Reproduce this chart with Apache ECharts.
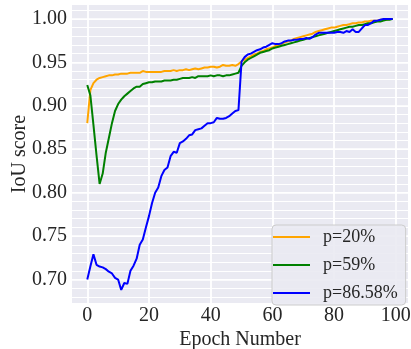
<!DOCTYPE html>
<html>
<head>
<meta charset="utf-8">
<script src="https://cdn.jsdelivr.net/npm/echarts@6/dist/echarts.min.js"></script>
<style>
html,body{margin:0;padding:0;background:#fff;}
#chart{width:411px;height:349px;}
</style>
</head>
<body>
<div id="chart"></div>
<script>
var epochs = [];
for (var i = 0; i < 100; i++) epochs.push(i);

var xTicks = [0, 20, 40, 60, 80, 100];
var yTicks = [0.70, 0.75, 0.80, 0.85, 0.90, 0.95, 1.00];
var yMinorTicks = [0.68,0.69,0.70,0.71,0.72,0.73,0.74,0.75,0.76,0.77,0.78,0.79,0.80,0.81,0.82,0.83,0.84,0.85,0.86,0.87,0.88,0.89,0.90,0.91,0.92,0.93,0.94,0.95,0.96,0.97,0.98,0.99,1.00,1.01];

var seriesNames = ['p=20%', 'p=59%', 'p=86.58%'];

var p20 = [
0.880,0.918,0.926,0.930,0.932,0.933,0.934,0.935,0.935,0.936,
0.936,0.937,0.937,0.937,0.938,0.938,0.938,0.938,0.940,0.939,
0.939,0.939,0.939,0.939,0.939,0.940,0.940,0.940,0.941,0.940,
0.941,0.941,0.942,0.941,0.942,0.943,0.942,0.943,0.944,0.944,
0.945,0.945,0.944,0.945,0.947,0.946,0.946,0.947,0.946,0.948,
0.951,0.953,0.955,0.957,0.959,0.960,0.962,0.963,0.965,0.966,
0.967,0.969,0.970,0.971,0.973,0.974,0.975,0.977,0.978,0.979,
0.980,0.981,0.982,0.983,0.985,0.986,0.987,0.988,0.989,0.990,
0.990,0.991,0.992,0.993,0.993,0.994,0.995,0.995,0.996,0.996,
0.997,0.997,0.998,0.998,0.998,0.999,0.999,0.999,1.000,1.000
];

var p59 = [
0.924,0.912,0.878,0.843,0.810,0.822,0.846,0.863,0.880,0.894,
0.902,0.907,0.911,0.914,0.917,0.920,0.922,0.922,0.925,0.926,
0.927,0.927,0.928,0.928,0.928,0.929,0.929,0.929,0.930,0.930,
0.931,0.932,0.932,0.932,0.933,0.932,0.934,0.934,0.934,0.934,
0.935,0.934,0.935,0.935,0.934,0.935,0.935,0.936,0.937,0.938,
0.946,0.950,0.953,0.955,0.957,0.959,0.961,0.962,0.963,0.964,
0.966,0.967,0.968,0.969,0.970,0.971,0.972,0.973,0.974,0.975,
0.976,0.977,0.978,0.979,0.980,0.981,0.982,0.983,0.984,0.985,
0.986,0.987,0.988,0.989,0.990,0.991,0.991,0.992,0.993,0.993,
0.994,0.995,0.995,0.996,0.997,0.997,0.998,0.999,0.999,1.000
];

var p8658 = [
0.700,0.715,0.729,0.717,0.715,0.714,0.712,0.709,0.707,0.702,
0.700,0.688,0.696,0.695,0.710,0.716,0.724,0.740,0.746,0.760,
0.773,0.788,0.800,0.806,0.819,0.826,0.829,0.842,0.847,0.846,
0.857,0.859,0.862,0.866,0.867,0.872,0.873,0.874,0.877,0.880,
0.880,0.881,0.886,0.885,0.885,0.886,0.888,0.891,0.894,0.895,
0.951,0.956,0.959,0.960,0.962,0.964,0.965,0.967,0.968,0.970,
0.972,0.971,0.971,0.972,0.974,0.975,0.975,0.976,0.976,0.977,
0.977,0.978,0.977,0.979,0.982,0.984,0.984,0.984,0.984,0.984,
0.984,0.985,0.985,0.984,0.986,0.985,0.988,0.985,0.985,0.989,
0.993,0.993,0.995,0.998,0.998,0.999,1.000,1.000,1.000,1.000
];

var colors = ['#FFA500', '#008000', '#0000FF'];
var FONT = "'Liberation Serif', 'Times New Roman', serif";

function pairs(arr) {
  return arr.map(function (v, i) { return [epochs[i], v]; });
}

var chart = echarts.init(document.getElementById('chart'), null, {renderer: 'canvas'});
chart.setOption({
  animation: false,
  backgroundColor: '#ffffff',
  textStyle: {fontFamily: FONT},
  grid: {left: 72, right: 3, top: 5, bottom: 46, show: true, backgroundColor: '#EAEAF2', borderWidth: 0,
    containLabel: false, outerBoundsMode: 'none'},
  xAxis: {
    type: 'value', min: -4.95, max: 103.95,
    name: 'Epoch Number', nameLocation: 'middle', nameGap: 27, nameMoveOverlap: false,
    nameTextStyle: {fontSize: 20, color: '#262626', fontFamily: FONT},
    axisLine: {show: false},
    axisTick: {show: false, customValues: xTicks},
    axisLabel: {customValues: xTicks, fontSize: 20, color: '#262626', margin: 3, fontFamily: FONT},
    splitLine: {show: true, lineStyle: {color: '#ffffff', width: 1.8}}
  },
  yAxis: [{
    type: 'value', min: 0.673, max: 1.016,
    name: 'IoU score', nameLocation: 'middle', nameGap: 42, nameMoveOverlap: false,
    nameTextStyle: {fontSize: 20, color: '#262626', fontFamily: FONT},
    axisLine: {show: false},
    axisTick: {show: false, customValues: yTicks},
    axisLabel: {customValues: yTicks, fontSize: 20, color: '#262626', margin: 5, fontFamily: FONT,
      formatter: function (v) { return v.toFixed(2); }},
    splitLine: {show: true, lineStyle: {color: '#ffffff', width: 1.5}}
  }, {
    type: 'value', min: 0.673, max: 1.016, position: 'right',
    axisLine: {show: false},
    axisTick: {show: false, customValues: yMinorTicks},
    axisLabel: {show: false, customValues: yMinorTicks},
    splitLine: {show: true, lineStyle: {color: '#ffffff', width: 1}}
  }],
  legend: {
    orient: 'vertical', left: 272, top: 225,
    data: seriesNames,
    icon: 'rect',
    backgroundColor: 'rgba(234,234,242,0.9)',
    borderColor: '#cccccc', borderWidth: 1, borderRadius: 4,
    padding: [3, 8, 3, 1],
    itemWidth: 37, itemHeight: 2, itemGap: 10,
    textStyle: {fontSize: 18, color: '#262626', fontFamily: FONT, lineHeight: 16, padding: [0, 0, 0, 8]}
  },
  series: [
    {name: seriesNames[0], type: 'line', data: pairs(p20), symbol: 'none', z: 3, lineStyle: {color: colors[0], width: 2}, itemStyle: {color: colors[0]}},
    {name: seriesNames[1], type: 'line', data: pairs(p59), symbol: 'none', z: 4, lineStyle: {color: colors[1], width: 2}, itemStyle: {color: colors[1]}},
    {name: seriesNames[2], type: 'line', data: pairs(p8658), symbol: 'none', z: 5, lineStyle: {color: colors[2], width: 2}, itemStyle: {color: colors[2]}}
  ]
});
</script>
</body>
</html>
